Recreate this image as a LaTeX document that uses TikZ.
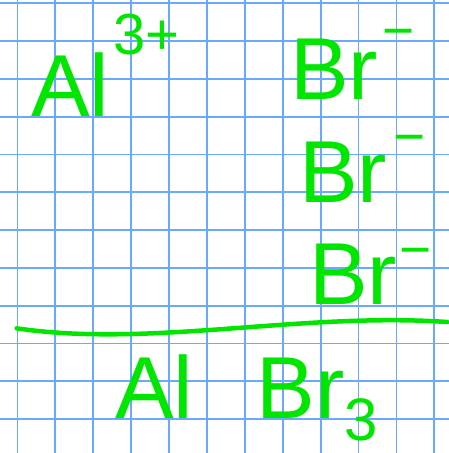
\documentclass[tikz,border=0pt]{standalone}
\usepackage{fontspec}
\setmainfont{Liberation Sans}
\definecolor{ink}{RGB}{0,230,0}
\definecolor{gridblue}{RGB}{105,170,252}
\tikzset{
  gridline/.style={draw=gridblue, line width=1.8pt},
  inkline/.style={draw=ink, line width=4.5pt, line cap=round, line join=round},
  chem/.style={text=ink, inner sep=0pt, anchor=base west, font=\fontsize{88}{88}\selectfont}
}
\begin{document}
\begin{tikzpicture}[x=1pt,y=-1pt]
\useasboundingbox (0,0) rectangle (449,453);
\fill[white] (0,0) rectangle (449,453);
\foreach \i in {0,...,11} {
  \draw[gridline] ({17.4+37.9*\i},0) -- ({17.4+37.9*\i},453);
  \draw[gridline] (0,{3.3+37.8*\i}) -- (449,{3.3+37.8*\i});
}
\node[chem] (al) at (31,116) {Al\hspace{4pt}\raisebox{62pt}{\fontsize{58}{58}\selectfont 3+}};
\node[chem] (br1) at (290,99) {Br\hspace{4pt}\raisebox{50pt}{\fontsize{55}{55}\selectfont −}};
\node[chem] (br2) at (299,202) {Br\hspace{6pt}\raisebox{47pt}{\fontsize{55}{55}\selectfont −}};
\node[chem] (br3) at (309,304) {Br\hspace{2pt}\raisebox{36pt}{\fontsize{55}{55}\selectfont −}};
\coordinate (lineL) at (16.7,328.3);
\coordinate (lineR) at (447.3,322);
\draw[inkline] (lineL) .. controls (150,348) and (300,312) .. (lineR);
\node[chem] (prod) at (115,418) {Al \hspace{39pt}Br\raisebox{-22pt}{\fontsize{60}{60}\selectfont 3}};
\end{tikzpicture}
\end{document}
